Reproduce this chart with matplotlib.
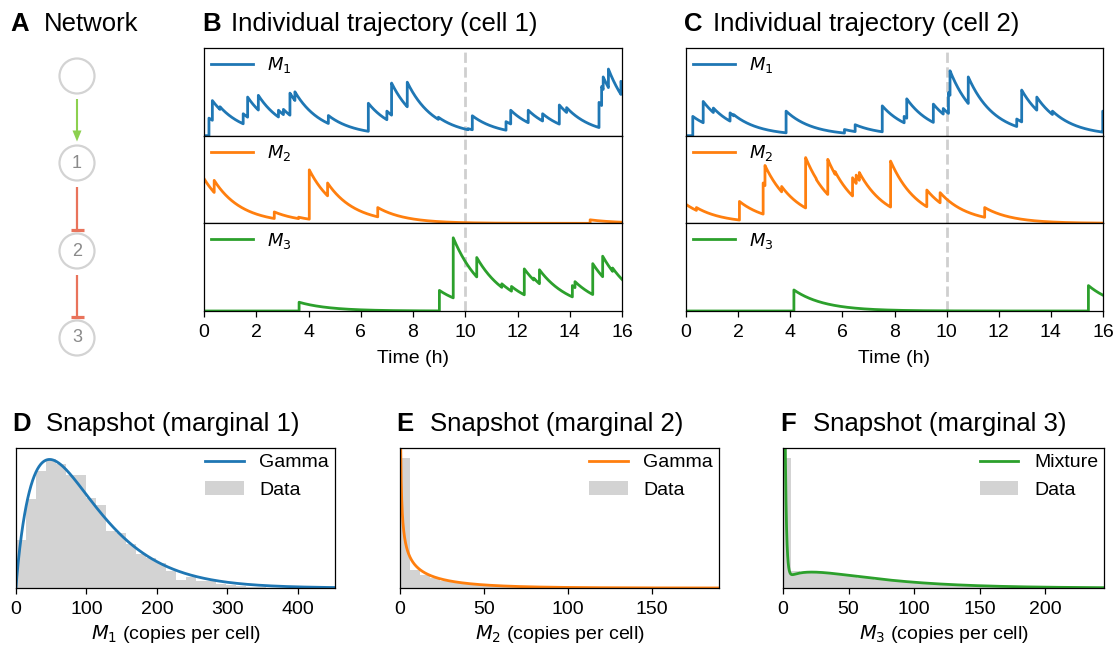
import numpy as np
import matplotlib
matplotlib.use("Agg")
import matplotlib.pyplot as plt
from matplotlib.patches import Circle, Polygon
from math import gamma as gamma_fn

plt.rcParams['font.family'] = ['Liberation Sans', 'DejaVu Sans']
plt.rcParams['mathtext.fontset'] = 'dejavusans'
plt.rcParams['axes.linewidth'] = 0.9

# ---------------------------------------------------------------- data
species = ["$M_1$", "$M_2$", "$M_3$"]
colors = ["#1f77b4", "#ff7f0e", "#2ca02c"]
decay_rates = [1.0, 0.95, 0.85]      # degradation rate per hour
t_end = 16.0
snapshot_time = 10.0

# Cell 1: initial levels, burst times (h) and level right after each burst
c1_initial = [0.0, 51.0, 0.0]
c1_m1_times = [0.19, 0.32, 0.61, 1.50, 1.67, 2.08, 2.85, 3.04, 3.29, 3.48, 4.76,
               6.29, 7.00, 7.18, 7.78, 8.97, 10.10, 10.27, 11.56, 11.74, 12.41,
               12.96, 13.60, 13.88, 15.12, 15.22, 15.28, 15.48, 15.96]
c1_m1_levels = [20, 40, 33, 25, 44, 46, 29, 30, 48.5, 50, 23,
                37, 28, 60, 61, 21, 8, 22.7, 16, 29, 29,
                25, 35, 32, 38, 56, 67, 76, 62]
c1_m2_times = [0.39, 2.69, 3.62, 4.03, 4.73, 6.65, 14.78]
c1_m2_levels = [49, 13, 7, 61, 46, 18, 4]
c1_m3_times = [3.64, 9.01, 9.54, 10.44, 11.40, 11.77, 12.26, 12.62, 12.84,
               14.10, 14.20, 14.88, 15.26, 15.64]
c1_m3_levels = [10, 23.5, 83.5, 61, 31, 28, 48, 37.5, 47,
                29, 33.5, 54, 62.5, 49]

# Cell 2
c2_initial = [0.0, 21.6, 0.0]
c2_m1_times = [0.26, 0.66, 1.05, 1.69, 1.83, 3.84, 6.08, 6.49, 7.53, 8.37, 8.47,
               9.49, 9.87, 10.07, 10.13, 10.83, 12.69, 12.88, 13.46, 14.06, 15.99]
c2_m1_levels = [22, 39, 31.5, 26, 24, 28, 7, 12.5, 34, 22, 42,
                36, 31, 49, 74, 67, 19, 52, 44, 28, 28]
c2_m2_times = [0.40, 2.05, 2.96, 3.03, 3.67, 4.59, 5.00, 5.44, 5.72, 6.39,
               6.53, 6.65, 7.85, 9.24, 9.75, 11.46]
c2_m2_levels = [18, 25, 46, 66, 42, 75, 50, 73, 59, 52,
                55, 58, 71, 38, 35, 18]
c2_m3_times = [4.14, 15.44]
c2_m3_levels = [24, 29]

# Snapshot histograms (density per bin) and fitted distributions
m1_bin_width = 14.2
m1_density = [0.0027, 0.0050, 0.0066, 0.0073, 0.0070, 0.0064, 0.0064, 0.0051,
              0.0047, 0.0032, 0.0031, 0.0025, 0.0019, 0.0017, 0.0014, 0.00095,
              0.00047, 0.00063, 0.00037, 0.00040, 0.00024, 0.00016, 0.00012,
              0.00008, 0.00004]
m1_gamma = (1.9, 53.0)               # shape, scale

m2_bin_width = 6.0
m2_density = [0.136, 0.019, 0.0139, 0.0102, 0.0073, 0.0058, 0.0044, 0.0037,
              0.0029, 0.0023, 0.0019, 0.0016, 0.0013, 0.0010, 0.0009, 0.0007,
              0.0006, 0.0004]
m2_gamma = (0.48, 37.0)

m3_bin_width = 6.3
m3_density = [0.0585, 0.0075, 0.0072, 0.0072, 0.0072, 0.0063, 0.0060, 0.0057,
              0.0052, 0.0047, 0.0043, 0.0038, 0.0034, 0.0030, 0.0027, 0.0023,
              0.0021, 0.0018, 0.0016, 0.0014, 0.0012, 0.0011, 0.0009, 0.0008,
              0.0006, 0.0006, 0.0004, 0.0004, 0.0003, 0.00025, 0.0002, 0.0002]
m3_mixture_weights = [0.35, 0.65]
m3_mixture_gammas = [(1.0, 1.0), (1.5, 44.0)]

# ---------------------------------------------------------------- helpers
W, H = 1118, 651
fig = plt.figure(figsize=(W / 100, H / 100), dpi=100)


def px_axes(x0, y0, x1, y1):
    return fig.add_axes([x0 / W, 1 - y1 / H, (x1 - x0) / W, (y1 - y0) / H])


def fig_text(x, y, s, **kw):
    fig.text(x / W, 1 - y / H, s, **kw)


def trajectory(initial, times, levels, rate):
    """Piecewise exponential decay between bursts."""
    t_pts, y_pts = [0.0], [initial]
    t0, y0 = 0.0, initial
    for tj, lj in list(zip(times, levels)) + [(t_end, None)]:
        seg = np.linspace(t0, tj, max(int((tj - t0) * 120), 2))
        t_pts.extend(seg[1:])
        y_pts.extend(y0 * np.exp(-rate * (seg[1:] - t0)))
        if lj is not None:
            t_pts.append(tj)
            y_pts.append(lj)
            t0, y0 = tj, lj
    return np.array(t_pts), np.array(y_pts)


def gamma_pdf(x, shape, scale):
    return x ** (shape - 1) * np.exp(-x / scale) / (gamma_fn(shape) * scale ** shape)


FS_TITLE = 18.5
FS_LABEL = 14
FS_LEGEND_TRAJ = 13

# ---------------------------------------------------------------- titles
panel_titles = [
    ("A", "Network", 10, 44, 31),
    ("B", "Individual trajectory (cell 1)", 202, 231, 31),
    ("C", "Individual trajectory (cell 2)", 684, 713, 31),
    ("D", "Snapshot (marginal 1)", 12, 46, 431),
    ("E", "Snapshot (marginal 2)", 396, 430, 431),
    ("F", "Snapshot (marginal 3)", 780, 813, 431),
]
for letter, title, xl, xt, yb in panel_titles:
    fig_text(xl, yb, letter, fontsize=FS_TITLE, fontweight='bold', va='baseline')
    fig_text(xt, yb, title, fontsize=FS_TITLE, va='baseline')

# ---------------------------------------------------------------- network
net = fig.add_axes([0, 0, 1, 1])
net.set_xlim(0, W)
net.set_ylim(H, 0)
net.axis('off')
net.set_zorder(-1)

node_x = 77
node_y = [76, 163, 251, 338]
node_labels = ["", "1", "2", "3"]
node_r = 17.5
for y, lab in zip(node_y, node_labels):
    net.add_patch(Circle((node_x, y), node_r, fill=False, ec="#d3d3d3", lw=1.6))
    net.text(node_x, y, lab, ha='center', va='center', fontsize=13, color="#8a8a8a")

green = "#8cd04f"
red = "#e9735b"
# activation arrow
y_a, y_b = node_y[0] + node_r + 5, node_y[1] - node_r - 4
net.plot([node_x, node_x], [y_a, y_b - 9], color=green, lw=1.5, solid_capstyle='butt')
net.add_patch(Polygon([[node_x - 4.5, y_b - 11], [node_x + 4.5, y_b - 11], [node_x, y_b]],
                      closed=True, color=green, lw=0))
# repression bars
for i in (1, 2):
    y_a, y_b = node_y[i] + node_r + 6, node_y[i + 1] - node_r - 4
    net.plot([node_x, node_x], [y_a, y_b], color=red, lw=1.6, solid_capstyle='butt')
    net.plot([node_x - 6.5, node_x + 6.5], [y_b, y_b], color=red, lw=2.3,
             solid_capstyle='butt')

# ---------------------------------------------------------------- trajectories
cells = [
    (204, 622, c1_initial, [(c1_m1_times, c1_m1_levels), (c1_m2_times, c1_m2_levels),
                            (c1_m3_times, c1_m3_levels)]),
    (686, 1103, c2_initial, [(c2_m1_times, c2_m1_levels), (c2_m2_times, c2_m2_levels),
                             (c2_m3_times, c2_m3_levels)]),
]
row_top, row_bottom = 48, 311
row_h = (row_bottom - row_top) / 3
for x0, x1, init, series in cells:
    for k in range(3):
        ax = px_axes(x0, row_top + k * row_h, x1, row_top + (k + 1) * row_h)
        t, y = trajectory(init[k], series[k][0], series[k][1], decay_rates[k])
        ax.plot(t, y, color=colors[k], lw=2.0, label=species[k])
        ax.axvline(snapshot_time, color="#cfcfcf", lw=2.0, ls='--', zorder=0)
        ax.set_xlim(0, t_end)
        ax.set_ylim(0, 100)
        ax.set_yticks([])
        ax.legend(loc='upper left', frameon=False, fontsize=FS_LEGEND_TRAJ,
                  handlelength=2.3, borderaxespad=0.05, borderpad=0.35,
                  handletextpad=0.8)
        if k < 2:
            ax.set_xticks([])
        else:
            ax.set_xticks(np.arange(0, 17, 2))
            ax.tick_params(axis='x', labelsize=FS_LABEL, length=4.5, width=0.9, pad=5)
            ax.set_xlabel("Time (h)", fontsize=FS_LABEL, labelpad=6)

# ---------------------------------------------------------------- snapshots
hist_axes = [(16, 335), (400, 719), (783, 1104)]
hist_top, hist_bottom = 448, 588
legend_kw = dict(loc='upper right', frameon=False, fontsize=FS_LABEL,
                 handlelength=2.0, borderaxespad=0.0, borderpad=0.3)

# M1
ax = px_axes(hist_axes[0][0], hist_top, hist_axes[0][1], hist_bottom)
edges = np.arange(len(m1_density) + 1) * m1_bin_width
bars = ax.stairs(m1_density, edges, fill=True, color="#d3d3d3", lw=0, label="Data")
x = np.linspace(0, 455, 1200)
line, = ax.plot(x, gamma_pdf(np.maximum(x, 1e-9), *m1_gamma), color=colors[0], lw=2,
                label="Gamma")
ax.set_xlim(0, 453)
ax.set_ylim(0, 0.0079)
ax.set_xticks([0, 100, 200, 300, 400])
ax.set_xlabel("$M_1$ (copies per cell)", fontsize=FS_LABEL)
ax.legend([line, bars], ["Gamma", "Data"], **legend_kw)

# M2
ax = px_axes(hist_axes[1][0], hist_top, hist_axes[1][1], hist_bottom)
edges = np.arange(len(m2_density) + 1) * m2_bin_width
bars = ax.stairs(m2_density, edges, fill=True, color="#d3d3d3", lw=0, label="Data")
x = np.linspace(0.05, 190, 2000)
line, = ax.plot(x, gamma_pdf(x, *m2_gamma), color=colors[1], lw=2, label="Gamma")
ax.set_xlim(0, 190)
ax.set_ylim(0, 0.146)
ax.set_xticks([0, 50, 100, 150])
ax.set_xlabel("$M_2$ (copies per cell)", fontsize=FS_LABEL)
ax.legend([line, bars], ["Gamma", "Data"], **legend_kw)

# M3
ax = px_axes(hist_axes[2][0], hist_top, hist_axes[2][1], hist_bottom)
edges = np.arange(len(m3_density) + 1) * m3_bin_width
bars = ax.stairs(m3_density, edges, fill=True, color="#d3d3d3", lw=0, label="Data")
x = np.linspace(0.02, 245, 3000)
mix = sum(w * gamma_pdf(x, *g) for w, g in zip(m3_mixture_weights, m3_mixture_gammas))
line, = ax.plot(x, mix, color=colors[2], lw=2, label="Mixture")
ax.set_xlim(0, 245)
ax.set_ylim(0, 0.0629)
ax.set_xticks([0, 50, 100, 150, 200])
ax.set_xlabel("$M_3$ (copies per cell)", fontsize=FS_LABEL)
ax.legend([line, bars], ["Mixture", "Data"], **legend_kw)

for a in fig.axes[-3:]:
    a.set_yticks([])
    a.tick_params(axis='x', labelsize=FS_LABEL, length=4.5, width=0.9, pad=4.5)

fig.savefig("out.png", dpi=100)
